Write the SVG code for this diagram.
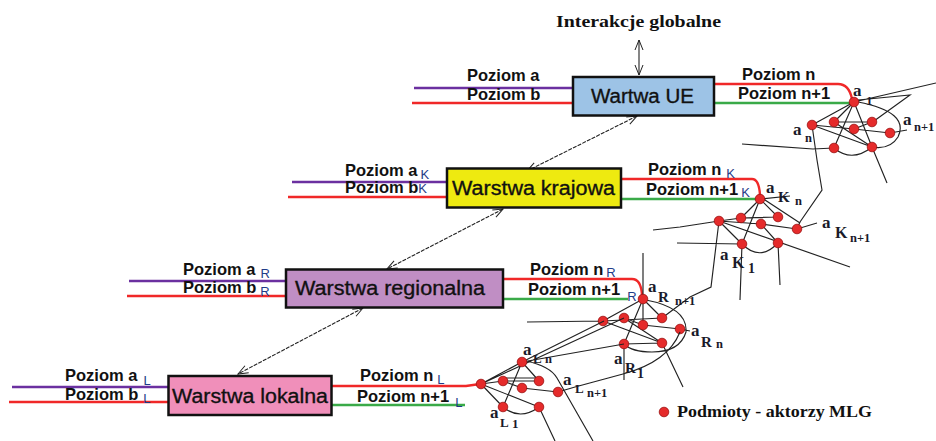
<svg xmlns="http://www.w3.org/2000/svg" width="936" height="441" viewBox="0 0 936 441">
<defs>
<marker id="oa" viewBox="0 0 12 10" refX="11" refY="5" markerWidth="12" markerHeight="10" markerUnits="userSpaceOnUse" orient="auto-start-reverse">
<path d="M1,1 L11,5 L1,9" fill="none" stroke="#222" stroke-width="1"/>
</marker>
<style>
.pz{font-family:"Liberation Sans",Arial,sans-serif;font-weight:bold;font-size:16.5px;fill:#111}
.sb{font-size:13px;font-weight:normal;fill:#1f3c88}
.lay{font-family:"Liberation Sans",Arial,sans-serif;font-size:20px;fill:#111;stroke:#111;stroke-width:0.35}
.box{stroke:#111;stroke-width:2.5}
.ln{fill:none;stroke-width:2.4}
.pu{stroke:#6b30a0}.rd{stroke:#f02828}.gr{stroke:#3aaa48}
.ed{fill:none;stroke:#222;stroke-width:1.15}
.nd{fill:#e52b2b;stroke:#9a1010;stroke-width:0.8}
.la{font-family:"Liberation Serif","Times New Roman",serif;font-weight:bold;font-size:17px;fill:#1a1a2a}
.lb{font-family:"Liberation Serif","Times New Roman",serif;font-weight:bold;font-size:15px;fill:#1a1a2a}
.lc{font-family:"Liberation Serif","Times New Roman",serif;font-weight:bold;font-size:12.5px;fill:#1a1a2a}
.ar{fill:none;stroke:#222;stroke-width:1.1;marker-start:url(#oa);marker-end:url(#oa)}
.dash{stroke-dasharray:4 1.2}
.ttl{font-family:"Liberation Serif","Times New Roman",serif;font-weight:bold;font-size:17px;fill:#111}
</style>
</defs>
<rect width="936" height="441" fill="#fff"/>

<text class="ttl" x="556" y="27" textLength="165" lengthAdjust="spacingAndGlyphs">Interakcje globalne</text>

<!-- Connectors -->
<g id="connectors">
<line class="ar" x1="639" y1="40" x2="639" y2="75"/>
<line class="ar dash" x1="637" y1="116" x2="527" y2="171"/>
<line class="ar dash" x1="503" y1="209" x2="387" y2="269"/>
<line class="ar dash" x1="363" y1="308" x2="238" y2="374"/>
</g>

<!-- UE layer -->
<g id="warstwa-ue">
<path class="ln pu" d="M414,88 H573"/>
<path class="ln rd" d="M412,103 H573"/>
<path class="ln rd" d="M714,84 H838 Q849,84 852,99"/>
<path class="ln gr" d="M714,103 H850"/>
<rect class="box" x="573" y="77" width="141" height="38.5" fill="#9dc3e6"/>
<text class="lay" x="591" y="103" textLength="103" lengthAdjust="spacingAndGlyphs">Wartwa UE</text>
<text class="pz" x="467" y="81">Poziom a</text>
<text class="pz" x="467" y="100">Poziom b</text>
<text class="pz" x="742" y="80">Poziom n</text>
<text class="pz" x="738" y="99">Poziom n+1</text>
</g>

<!-- Krajowa layer -->
<g id="warstwa-krajowa">
<path class="ln pu" d="M292,182 H447"/>
<path class="ln rd" d="M288,197 H447"/>
<path class="ln rd" d="M621,179 H752 Q759,179 760,195"/>
<path class="ln gr" d="M621,199 H757"/>
<rect class="box" x="447" y="168.5" width="174" height="39" fill="#eeea10"/>
<text class="lay" x="452" y="195" textLength="163" lengthAdjust="spacingAndGlyphs">Warstwa krajowa</text>
<text class="pz" x="345" y="176">Poziom a<tspan class="sb" dx="3" dy="3">K</tspan></text>
<text class="pz" x="345" y="193">Poziom b<tspan class="sb" dx="0">K</tspan></text>
<text class="pz" x="648" y="175">Poziom n<tspan class="sb" dx="5" dy="3">K</tspan></text>
<text class="pz" x="646" y="195">Poziom n+1<tspan class="sb" dx="3" dy="2">K</tspan></text>
</g>

<!-- Regionalna layer -->
<g id="warstwa-regionalna">
<path class="ln pu" d="M129,281 H286"/>
<path class="ln rd" d="M127,296 H286"/>
<path class="ln rd" d="M503,279 H632 Q641,279 642,295"/>
<path class="ln gr" d="M503,299 H628"/>
<rect class="box" x="286" y="269.5" width="217" height="38" fill="#c08ec4"/>
<text class="lay" x="295" y="295" textLength="190" lengthAdjust="spacingAndGlyphs">Warstwa regionalna</text>
<text class="pz" x="183" y="275">Poziom a<tspan class="sb" dx="5" dy="3">R</tspan></text>
<text class="pz" x="183" y="293">Poziom b<tspan class="sb" dx="4" dy="3">R</tspan></text>
<text class="pz" x="530" y="275">Poziom n<tspan class="sb" dx="3" dy="2">R</tspan></text>
<text class="pz" x="528" y="295">Poziom n+1<tspan class="sb" dx="7" dy="6">R</tspan></text>
</g>

<!-- Lokalna layer -->
<g id="warstwa-lokalna">
<path class="ln pu" d="M12,387 H168"/>
<path class="ln rd" d="M9,402 H168"/>
<path class="ln rd" d="M332,386 H466 L480,384"/>
<path class="ln gr" d="M332,405 H465"/>
<rect class="box" x="168.5" y="376" width="163" height="39" fill="#f08fba"/>
<text class="lay" x="172" y="403" textLength="156" lengthAdjust="spacingAndGlyphs">Warstwa lokalna</text>
<text class="pz" x="65" y="381">Poziom a<tspan class="sb" dx="6" dy="4">L</tspan></text>
<text class="pz" x="65" y="400">Poziom b<tspan class="sb" dx="5" dy="3">L</tspan></text>
<text class="pz" x="360" y="381">Poziom n<tspan class="sb" dx="4" dy="3">L</tspan></text>
<text class="pz" x="357" y="402">Poziom n+1<tspan class="sb" dx="6" dy="5">L</tspan></text>
</g>

<!-- Top network -->
<g id="siec-ue">
<path class="ed" d="M854,102 L936,83 M858,100 L910,95 L874,121 M854,102 L812,125 M854,102 L834,148 M854,102 L872,147 M854,102 L834,122 M834,122 H872 M854,129 L890,133 L907,130 M812,125 L854,129 M812,125 L872,147 M834,122 L872,147 M742,144 L813,149 L834,148 M872,147 L887,183 M812,125 L817,160 L822,190 L800,222 L797,229 M858,102 Q910,112 898,137 Q890,150 872,147 M834,148 Q852,163 872,147 M872,122 L854,129"/>
<circle class="nd" cx="854" cy="102" r="4.8"/>
<circle class="nd" cx="812" cy="125" r="4.8"/>
<circle class="nd" cx="834" cy="122" r="4.8"/>
<circle class="nd" cx="872" cy="122" r="4.8"/>
<circle class="nd" cx="854" cy="129" r="4.8"/>
<circle class="nd" cx="890" cy="133" r="4.8"/>
<circle class="nd" cx="834" cy="148" r="4.8"/>
<circle class="nd" cx="872" cy="147" r="4.8"/>
<text class="la" x="853" y="96">a</text><text class="lb" x="866" y="105" style="font-size:13px">1</text>
<text class="la" x="903" y="125">a</text><text class="lc" x="914" y="131">n+1</text>
<text class="la" x="793" y="135">a</text><text class="lc" x="805" y="142">n</text>
</g>

<!-- Krajowa network -->
<g id="siec-krajowa">
<path class="ed" d="M760,199 L741,218 M760,199 L742,244 M760,199 L778,217 M762,198 L800,223 M760,199 L790,196 M741,218 L778,217 M719,221 L761,224 L797,229 L817,223 M719,221 L850,267 M719,221 L741,218 M719,221 L742,244 M742,244 Q760,262 778,243 M742,244 L740,300 M778,243 L780,285 M653,230 L680,227 L719,221 M677,243 L742,244 M719,221 L711,287 L690,297 L662,318 M761,224 L778,243"/>
<circle class="nd" cx="760" cy="199" r="4.8"/>
<circle class="nd" cx="719" cy="221" r="4.8"/>
<circle class="nd" cx="741" cy="218" r="4.8"/>
<circle class="nd" cx="778" cy="217" r="4.8"/>
<circle class="nd" cx="761" cy="224" r="4.8"/>
<circle class="nd" cx="797" cy="229" r="4.8"/>
<circle class="nd" cx="742" cy="244" r="4.8"/>
<circle class="nd" cx="778" cy="243" r="4.8"/>
<text class="la" x="766" y="193">a</text><text class="lb" x="778" y="202">K</text><text class="lc" x="795" y="205">n</text>
<text class="la" x="822" y="228">a</text><text class="lb" x="835" y="238" style="font-size:16px">K</text><text class="lc" x="850" y="242">n+1</text>
<text class="la" x="720" y="260">a</text><text class="lb" x="732" y="268" style="font-size:16px">K</text><text class="lb" x="748" y="273" style="font-size:14px">1</text>
</g>

<!-- Regionalna network -->
<g id="siec-regionalna">
<path class="ed" d="M643,253 L643,299 M643,299 L603,321 M643,299 L624,344 M643,299 L643,325 M643,299 L662,318 M603,321 L662,318 M624,318 L643,325 L680,329 L690,331 M603,321 L662,343 M624,344 L662,343 M646,300 Q688,308 686,332 Q680,352 652,352 Q632,352 624,344 M624,344 L624,380 M662,343 L683,387 M527,322 L603,321 M624,318 L662,343"/>
<circle class="nd" cx="643" cy="299" r="4.8"/>
<circle class="nd" cx="603" cy="321" r="4.8"/>
<circle class="nd" cx="624" cy="318" r="4.8"/>
<circle class="nd" cx="662" cy="318" r="4.8"/>
<circle class="nd" cx="643" cy="325" r="4.8"/>
<circle class="nd" cx="680" cy="329" r="4.8"/>
<circle class="nd" cx="624" cy="344" r="4.8"/>
<circle class="nd" cx="662" cy="343" r="4.8"/>
<text class="la" x="648" y="292">a</text><text class="lb" x="658" y="302">R</text><text class="lc" x="675" y="305">n+1</text>
<text class="la" x="691" y="336">a</text><text class="lb" x="701" y="347">R</text><text class="lc" x="716" y="348">n</text>
<text class="la" x="614" y="364">a</text><text class="lb" x="625" y="373">R</text><text class="lb" x="637" y="378" style="font-size:14px">1</text>
</g>

<!-- Lokalna network -->
<g id="siec-lokalna">
<path class="ed" d="M481,384 L503,381 M481,384 L522,362 M481,384 L539,407 M481,384 L503,407 M503,381 L539,381 M503,378 L539,378 M522,388 L558,392 M522,362 L539,381 M522,362 L503,407 M503,407 Q520,421 539,407 M539,407 L555,441 M526,361 Q550,366 557,378 L593,441 M522,362 L624,344 M522,362 L604,321 M481,384 L624,318 M558,392 L575,387 L623,374 Q668,362 680,332 M503,381 L522,388"/>
<circle class="nd" cx="481" cy="384" r="4.8"/>
<circle class="nd" cx="522" cy="362" r="4.8"/>
<circle class="nd" cx="503" cy="381" r="4.8"/>
<circle class="nd" cx="539" cy="381" r="4.8"/>
<circle class="nd" cx="522" cy="388" r="4.8"/>
<circle class="nd" cx="558" cy="392" r="4.8"/>
<circle class="nd" cx="503" cy="407" r="4.8"/>
<circle class="nd" cx="539" cy="407" r="4.8"/>
<text class="la" x="523" y="355">a</text><text class="lb" x="533" y="363" style="font-size:13px">L</text><text class="lc" x="545" y="363">n</text>
<text class="la" x="563" y="385">a</text><text class="lb" x="575" y="393" style="font-size:13px">L</text><text class="lc" x="587" y="397">n+1</text>
<text class="la" x="490" y="418">a</text><text class="lb" x="500" y="427" style="font-size:13px">L</text><text class="lb" x="512" y="428" style="font-size:13px">1</text>
</g>

<!-- Legend -->
<g id="legenda">
<circle class="nd" cx="664" cy="412" r="4.8"/>
<text class="ttl" x="677" y="417" textLength="195" lengthAdjust="spacingAndGlyphs" style="font-size:16px">Podmioty - aktorzy MLG</text>
</g>
</svg>
